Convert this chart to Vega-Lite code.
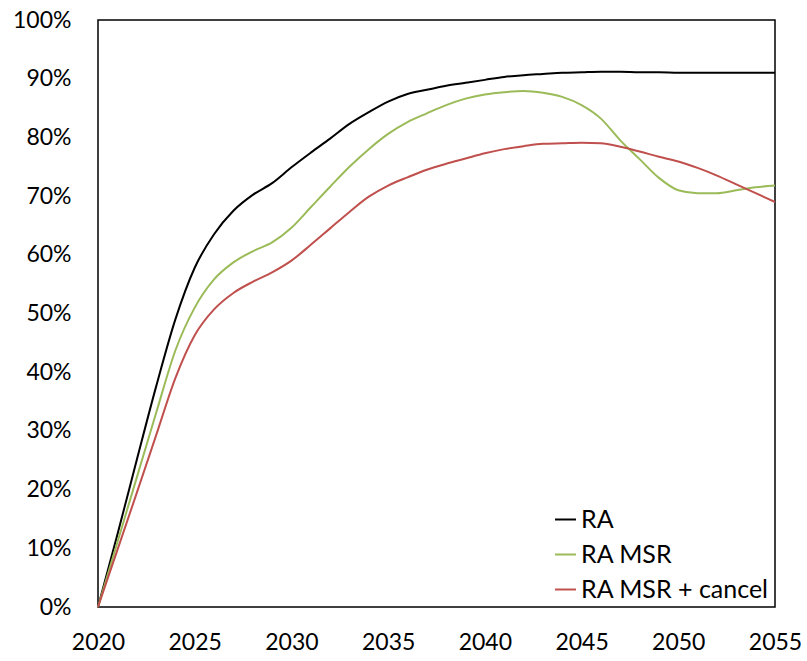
{
  "$schema": "https://vega.github.io/schema/vega-lite/v6.json",
  "width": 677,
  "height": 587,
  "autosize": {"type": "none"},
  "padding": {"left": 98, "top": 20, "right": 32, "bottom": 54},
  "background": "white",
  "config": {
    "font": "Lato",
    "view": {"stroke": "#000000", "strokeWidth": 1.5},
    "axis": {"grid": false, "ticks": false, "domain": false, "labelFont": "Lato", "labelFontSize": 23, "labelColor": "#000000", "title": null}
  },
  "data": {
    "values": [
      {"year": 2020, "RA": 0, "RA MSR": 0, "RA MSR + cancel": 0},
      {"year": 2021, "RA": 12.3, "RA MSR": 11, "RA MSR + cancel": 9.7},
      {"year": 2022, "RA": 25, "RA MSR": 22, "RA MSR + cancel": 19.4},
      {"year": 2023, "RA": 37.5, "RA MSR": 33, "RA MSR + cancel": 29.2},
      {"year": 2024, "RA": 49, "RA MSR": 43.7, "RA MSR + cancel": 39},
      {"year": 2025, "RA": 57.8, "RA MSR": 51, "RA MSR + cancel": 46.3},
      {"year": 2026, "RA": 63.5, "RA MSR": 55.8, "RA MSR + cancel": 50.7},
      {"year": 2027, "RA": 67.5, "RA MSR": 58.7, "RA MSR + cancel": 53.5},
      {"year": 2028, "RA": 70.2, "RA MSR": 60.6, "RA MSR + cancel": 55.4},
      {"year": 2029, "RA": 72.2, "RA MSR": 62.1, "RA MSR + cancel": 57},
      {"year": 2030, "RA": 74.9, "RA MSR": 64.6, "RA MSR + cancel": 59},
      {"year": 2031, "RA": 77.4, "RA MSR": 68.1, "RA MSR + cancel": 61.7},
      {"year": 2032, "RA": 79.8, "RA MSR": 71.6, "RA MSR + cancel": 64.5},
      {"year": 2033, "RA": 82.3, "RA MSR": 75, "RA MSR + cancel": 67.3},
      {"year": 2034, "RA": 84.3, "RA MSR": 78, "RA MSR + cancel": 69.9},
      {"year": 2035, "RA": 86.1, "RA MSR": 80.6, "RA MSR + cancel": 71.8},
      {"year": 2036, "RA": 87.4, "RA MSR": 82.6, "RA MSR + cancel": 73.2},
      {"year": 2037, "RA": 88.1, "RA MSR": 84.1, "RA MSR + cancel": 74.5},
      {"year": 2038, "RA": 88.8, "RA MSR": 85.5, "RA MSR + cancel": 75.5},
      {"year": 2039, "RA": 89.3, "RA MSR": 86.6, "RA MSR + cancel": 76.4},
      {"year": 2040, "RA": 89.8, "RA MSR": 87.3, "RA MSR + cancel": 77.3},
      {"year": 2041, "RA": 90.3, "RA MSR": 87.7, "RA MSR + cancel": 78},
      {"year": 2042, "RA": 90.6, "RA MSR": 87.9, "RA MSR + cancel": 78.5},
      {"year": 2043, "RA": 90.8, "RA MSR": 87.6, "RA MSR + cancel": 78.9},
      {"year": 2044, "RA": 91, "RA MSR": 86.9, "RA MSR + cancel": 79},
      {"year": 2045, "RA": 91.1, "RA MSR": 85.5, "RA MSR + cancel": 79.1},
      {"year": 2046, "RA": 91.2, "RA MSR": 83.2, "RA MSR + cancel": 79},
      {"year": 2047, "RA": 91.2, "RA MSR": 79.5, "RA MSR + cancel": 78.4},
      {"year": 2048, "RA": 91.1, "RA MSR": 76.3, "RA MSR + cancel": 77.6},
      {"year": 2049, "RA": 91.1, "RA MSR": 73.1, "RA MSR + cancel": 76.7},
      {"year": 2050, "RA": 91, "RA MSR": 71, "RA MSR + cancel": 75.9},
      {"year": 2051, "RA": 91, "RA MSR": 70.5, "RA MSR + cancel": 74.8},
      {"year": 2052, "RA": 91, "RA MSR": 70.5, "RA MSR + cancel": 73.5},
      {"year": 2053, "RA": 91, "RA MSR": 71, "RA MSR + cancel": 72},
      {"year": 2054, "RA": 91, "RA MSR": 71.5, "RA MSR + cancel": 70.5},
      {"year": 2055, "RA": 91, "RA MSR": 71.8, "RA MSR + cancel": 69}
    ]
  },
  "transform": [
    {"fold": ["RA", "RA MSR", "RA MSR + cancel"], "as": ["series", "value"]}
  ],
  "mark": {"type": "line", "interpolate": "monotone", "strokeWidth": 2},
  "encoding": {
    "x": {
      "field": "year", "type": "quantitative",
      "scale": {"domain": [2020, 2055], "nice": false, "zero": false},
      "axis": {"values": [2020, 2025, 2030, 2035, 2040, 2045, 2050, 2055], "format": "d", "labelPadding": 24, "labelFlush": false}
    },
    "y": {
      "field": "value", "type": "quantitative",
      "scale": {"domain": [0, 100], "nice": false},
      "axis": {"values": [0, 10, 20, 30, 40, 50, 60, 70, 80, 90, 100], "labelExpr": "datum.value + '%'", "labelPadding": 27}
    },
    "color": {
      "field": "series", "type": "nominal",
      "scale": {"domain": ["RA", "RA MSR", "RA MSR + cancel"], "range": ["#000000", "#9BBB59", "#C0504D"]},
      "legend": {
        "title": null,
        "orient": "none",
        "legendX": 455,
        "legendY": 487,
        "symbolType": "stroke",
        "symbolSize": 441,
        "symbolStrokeWidth": 2,
        "labelFont": "Lato",
        "labelFontSize": 25,
        "labelColor": "#000000",
        "labelOffset": 3,
        "rowPadding": 9,
        "labelLimit": 300
      }
    }
  }
}
